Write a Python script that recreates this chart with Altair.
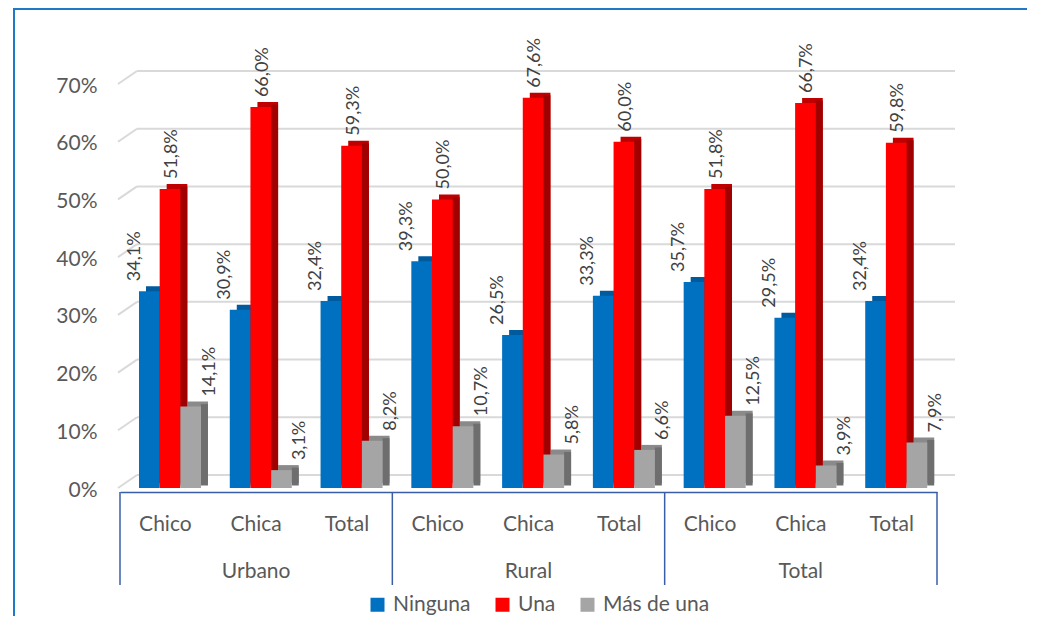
import altair as alt
import pandas as pd

groups = ["Urbano", "Rural", "Total"]
subcats = ["Chico", "Chica", "Total"]
series = ["Ninguna", "Una", "Más de una"]
ninguna = [34.1, 30.9, 32.4, 39.3, 26.5, 33.3, 35.7, 29.5, 32.4]
una = [51.8, 66.0, 59.3, 50.0, 67.6, 60.0, 51.8, 66.7, 59.8]
mas_de_una = [14.1, 3.1, 8.2, 10.7, 5.8, 6.6, 12.5, 3.9, 7.9]
y_ticks = [0, 10, 20, 30, 40, 50, 60, 70]

front_colors = ["#0070C0", "#FF0000", "#A5A5A5"]
top_colors = ["#005A9E", "#C00000", "#8A8A8A"]
side_colors = ["#004F8A", "#A00000", "#6E6E6E"]
FONT = "Lato"
TXT = "#595959"
BOX = "#3A5DA8"

keys = [f"{g}|{s}" for g in groups for s in subcats]
rows = []
for i, k in enumerate(keys):
    for sname, vals in zip(series, [ninguna, una, mas_de_una]):
        rows.append({"key": k, "serie": sname, "v": vals[i]})
df = pd.DataFrame(rows)
grid_df = pd.DataFrame({"v": y_ticks})
div_df = pd.DataFrame({"key": [f"{g}|{subcats[0]}" for g in groups]})
end_df = pd.DataFrame({"key": [keys[-1]]})
grp_df = pd.DataFrame({"key": [f"{g}|{subcats[1]}" for g in groups], "g": groups})
one = pd.DataFrame({"a": [0]})

W, H = 817, 404

xscale = alt.Scale(domain=keys, paddingInner=0, paddingOuter=0)
xaxis = alt.Axis(labelExpr="split(datum.label, '|')[1]", labelAngle=0, ticks=False,
                 domainColor=BOX, domainWidth=1.5, offset=4, labelPadding=21,
                 labelFontSize=21, labelColor=TXT, labelFont=FONT, grid=False)
yscale = alt.Scale(domain=[0, 70], nice=False, zero=True)
yaxis = alt.Axis(values=y_ticks, labelExpr="datum.value + '%'", ticks=False, domain=False,
                 grid=False, labelPadding=23, labelOffset=2, labelFontSize=21,
                 labelColor=TXT, labelFont=FONT)


def X(**kw):
    return alt.X("key:N", sort=keys, scale=xscale, axis=xaxis, title=None, **kw)


def Y():
    return alt.Y("v:Q", scale=yscale, axis=yaxis, title=None)


def XO(rng):
    return alt.XOffset("serie:N", sort=series,
                       scale=alt.Scale(domain=series, range=rng, paddingInner=0, paddingOuter=0))


grid = alt.Chart(grid_df).mark_rule(color="#D9D9D9", strokeWidth=2, yOffset=-13).encode(
    y=Y(), x=alt.value(17), x2=alt.value(835))
diag = alt.Chart(grid_df).mark_rule(color="#D9D9D9", strokeWidth=2, y2Offset=-13).encode(
    y=Y(), y2=alt.Y2("v"), x=alt.value(-2), x2=alt.value(17))

top = alt.Chart(df).mark_bar(yOffset=-5).encode(
    x=X(), xOffset=XO([26, 88]), y=Y(),
    color=alt.Color("serie:N", sort=series, scale=alt.Scale(domain=series, range=top_colors), legend=None))
side = alt.Chart(df).mark_bar(width=7, yOffset=-2.5).encode(
    x=X(), xOffset=XO([32.8, 94.8]), y=Y(),
    color=alt.Color("serie:N", sort=series, scale=alt.Scale(domain=series, range=side_colors), legend=None))
front = alt.Chart(df).mark_bar().encode(
    x=X(), xOffset=XO([19, 81]), y=Y(),
    color=alt.Color("serie:N", sort=series, scale=alt.Scale(domain=series, range=front_colors),
                    legend=alt.Legend(title=None, orient="none", legendX=247, legendY=510,
                                      direction="horizontal", symbolType="square", symbolSize=196,
                                      symbolStrokeWidth=0, labelFontSize=21, labelFont=FONT,
                                      labelColor=TXT, columnPadding=21, labelOffset=5, padding=0)))
labels = alt.Chart(df).transform_calculate(
    lab="replace(format(datum.v, '.1f'), '.', ',') + '%'"
).mark_text(angle=270, align="left", baseline="middle", dx=10, fontSize=18,
            font=FONT, color="#404040").encode(
    x=X(), xOffset=XO([14.5, 89.5]), y=Y(), text="lab:N")

dividers = alt.Chart(div_df).mark_rule(color=BOX, strokeWidth=1.5).encode(
    x=X(bandPosition=0), y=alt.value(H + 4), y2=alt.value(H + 97))
end_div = alt.Chart(end_df).mark_rule(color=BOX, strokeWidth=1.5).encode(
    x=X(bandPosition=1), y=alt.value(H + 4), y2=alt.value(H + 97))
grp_labels = alt.Chart(grp_df).mark_text(fontSize=21, font=FONT, color=TXT, baseline="middle").encode(
    x=X(), y=alt.value(H + 84), text="g:N")

border_top = alt.Chart(one).mark_rule(color="#1F78C8", strokeWidth=2).encode(
    x=alt.value(-107), x2=alt.value(W + 200), y=alt.value(-75))
border_left = alt.Chart(one).mark_rule(color="#1F78C8", strokeWidth=2).encode(
    x=alt.value(-106), y=alt.value(-76), y2=alt.value(H + 300))

chart = alt.layer(
    grid, diag, top, side, front, labels, dividers, end_div, grp_labels, border_top, border_left
).resolve_scale(
    xOffset="independent", color="independent"
).properties(
    width=W, height=H,
    autosize=alt.AutoSizeParams(type="none"),
    padding={"left": 112, "top": 76, "right": 90, "bottom": 128},
).configure_view(stroke=None)

chart.save("out.html", embed_options={"renderer": "svg", "actions": False})
